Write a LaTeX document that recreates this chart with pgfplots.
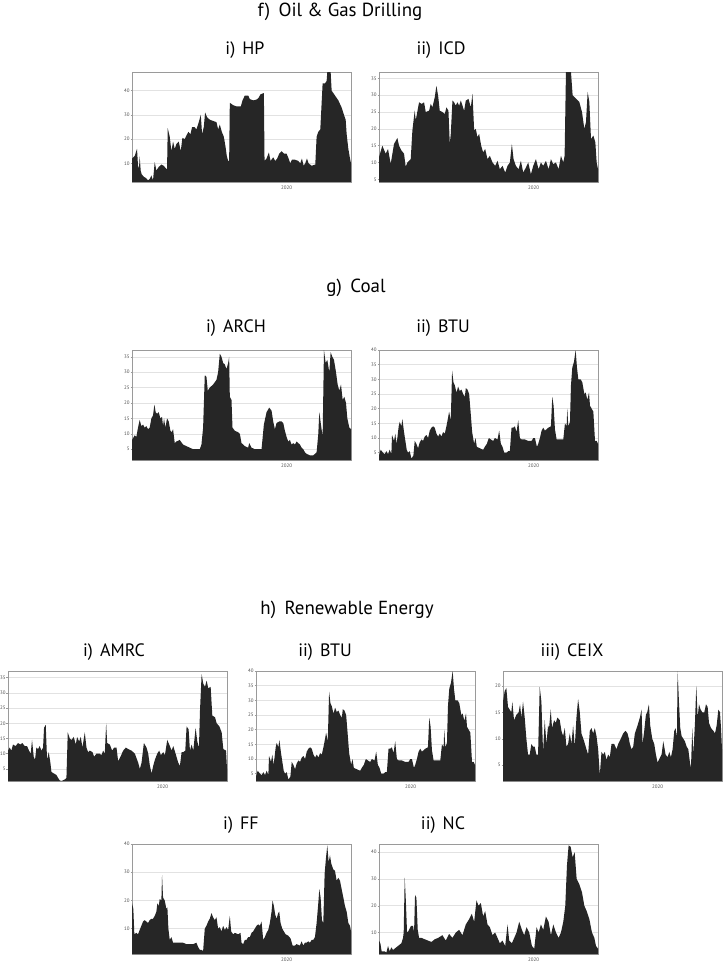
\documentclass[border=0pt]{standalone}
\usepackage{fontspec}
\setmainfont{PT Sans}
\usepackage{pgfplots}
\pgfplotsset{compat=1.18}
\definecolor{areac}{HTML}{262626}
\definecolor{gridc}{HTML}{E2E2E2}
\definecolor{framec}{HTML}{9A9A9A}
\definecolor{tickc}{HTML}{505050}
\pgfplotsset{
  panel/.style={
    scale only axis, width=219bp, height=110bp,
    xmin=0, xmax=656, xtick={463}, xticklabels={2020},
    ymajorgrids, grid style={draw=gridc, line width=0.5bp},
    axis line style={draw=framec, line width=0.7bp},
    major tick length=1.5bp, tick align=outside,
    xtick style={draw=none}, ytick style={draw=framec, line width=0.4bp},
    ytick pos=left, xtick pos=bottom,
    tick label style={font=\fontsize{5}{6}\selectfont, text=tickc},
    yticklabel style={inner sep=0.7bp},
    /pgf/number format/assume math mode=true,
    xticklabel style={yshift=1bp},
    anchor=north west,
  },
  darea/.style={fill=areac, draw=none},
}
% section and panel titles
\newcommand{\stitle}[3]{\node[font=\fontsize{19}{21}\selectfont] at (#1bp,-#2bp) {#3};}
\newcommand{\ptitle}[3]{\node[font=\fontsize{18}{20}\selectfont] at (#1bp,-#2bp) {#3};}

\begin{document}
\begin{tikzpicture}
\path[use as bounding box] (0,0) rectangle (725bp,-963bp);

% ---------- f) Oil & Gas Drilling
\stitle{340}{12}{f)\hspace{0.45em}Oil \& Gas Drilling}
\ptitle{245}{50}{i)\hspace{0.4em}HP}
\ptitle{441}{50}{ii)\hspace{0.4em}ICD}

\begin{axis}[panel, at={(132bp,-72bp)}, ymin=2.3, ymax=47.7, ytick={10,20,30,40}]
\addplot[darea] coordinates {(0,12)(8,13)(15,16)(18,9)(21,8)(23,13)(26,7)(29,5.5)(35,4.5)(41,4)(48,3)(53,3.5)(58,5)(63,3)(68,10.5)(73,7)(80,8.5)(88,9.5)(95,9)(101,8)(105,7.5)(107,24.5)(113,21)(118,15)(123,19)(128,16)(133,18)(140,19)(146,15)(151,20.5)(158,20)(163,21.5)(169,23)(175,22)(180,25)(187,25)(193,24)(200,27)(206,30)(210,22)(215,25)(219,31)(225,29)(233,28)(243,27.5)(253,27)(258,24)(263,26)(269,23)(275,21)(280,17)(284,13)(288,11)(291,11)(293,35)(303,34)(313,33.5)(326,33.5)(331,36)(338,38)(348,38)(353,36.5)(363,36)(373,36.3)(379,37)(385,38.5)(395,39)(397,11)(403,12)(410,14.5)(415,11)(423,12.5)(429,11)(435,12)(441,14)(448,15)(455,14)(463,14)(469,12)(474,10)(479,11.5)(488,11.5)(498,11)(504,10)(509,12)(514,9)(519,10)(524,12)(529,10)(538,9)(549,9.5)(553,21)(558,23)(564,24)(571,43)(578,43)(583,44)(585,47.7)(595,47.7)(598,40)(608,38)(618,36)(628,33)(635,30)(640,28)(643,22)(648,16)(653,12)(656,10)} \closedcycle;
\end{axis}

\begin{axis}[panel, at={(379bp,-72bp)}, ymin=4.2, ymax=36.9, ytick={5,10,...,35}]
\addplot[darea] coordinates {(0,11.6)(10,15)(20,12.6)(27,14)(35,9.6)(45,15.5)(55,17.3)(60,15)(67,13.6)(75,12.6)(80,8.7)(85,10)(95,11)(100,19.5)(107,25.4)(110,22.5)(120,27.9)(128,27.4)(135,27.9)(140,25)(150,25.4)(155,27.4)(160,26.4)(167,29.4)(172,32.8)(177,29.9)(182,25.4)(190,25)(197,24.4)(202,26.4)(208,25.4)(212,15.6)(215,18.5)(220,28.4)(225,27.9)(230,26.9)(235,27.9)(240,26.9)(245,28.4)(250,26.9)(255,25.4)(260,28.4)(268,28.9)(275,26.4)(280,30.4)(285,19.5)(290,20)(295,17.5)(300,18.5)(306,15)(312,13)(318,14)(325,11)(332,12)(340,10)(348,9)(355,10.5)(362,8)(370,9)(378,7)(385,9)(392,10)(398,15.5)(403,11)(410,9)(418,8)(425,10.5)(432,7)(440,8.5)(447,10)(455,6.5)(462,9)(470,11)(478,8)(485,10)(492,9)(500,10.5)(508,8)(515,11)(522,9.5)(530,10)(538,8)(545,12)(552,10)(556,12)(560,36.9)(575,36.9)(580,30)(590,29)(600,28)(608,25)(615,20)(620,22)(625,31)(630,28)(635,17)(642,18)(648,16)(652,10)(656,8)} \closedcycle;
\end{axis}

% ---------- g) Coal
\stitle{356}{288}{g)\hspace{0.45em}Coal}
\ptitle{236}{328}{i)\hspace{0.4em}ARCH}
\ptitle{443}{328}{ii)\hspace{0.4em}BTU}

\begin{axis}[panel, at={(132bp,-350bp)}, ymin=1.5, ymax=37.2, ytick={5,10,...,35}]
\addplot[darea] coordinates {(0,8)(8,9.5)(13,9)(18,12)(23,14.5)(28,12.5)(33,13)(38,12)(43,12.5)(48,11.5)(53,12)(58,15)(63,16)(67,19.5)(71,17)(75,16.5)(80,17)(85,15)(90,15.5)(93,12.5)(96,15)(100,12)(105,15)(110,14)(115,11)(119,10.5)(123,11.5)(128,7)(133,7.5)(143,8)(153,6.5)(163,6)(173,5.5)(183,5)(193,5)(203,5)(208,6.5)(213,12)(218,29)(223,28.5)(227,24)(233,25)(243,26)(253,27.5)(258,30)(263,36)(268,35)(273,33)(278,32.5)(283,31)(288,33)(291,35)(293,22)(298,21)(301,12)(308,11)(318,10.5)(323,10)(328,7)(338,6)(348,5.5)(351,7)(358,5.5)(368,5)(378,5)(388,5)(395,13)(403,17)(411,18.5)(418,17.5)(423,14)(428,11.5)(433,13.5)(441,14)(448,14)(453,13.5)(458,11)(463,9)(468,7.5)(473,8)(478,6.5)(483,7)(488,6.5)(493,7.5)(498,7)(503,6.5)(508,5.5)(513,5)(518,4)(523,3.5)(533,3)(543,3)(553,4)(558,10)(561,17)(566,13)(571,9)(575,37.2)(580,33)(585,34)(591,30)(595,36.5)(600,35)(605,34)(611,30)(616,26)(621,24)(626,26)(631,21)(636,22)(641,20)(645,15)(651,12)(656,11.5)} \closedcycle;
\end{axis}

\begin{axis}[panel, at={(379bp,-350bp)}, ymin=2.5, ymax=40, ytick={5,10,...,40}]
\addplot[darea] coordinates {(0,4)(5,6)(12,5)(17,4.5)(22,5.5)(27,4.5)(32,6)(37,4.5)(39,11)(45,9)(49,11.5)(52,8)(55,10)(59,14)(62,15.5)(67,14)(70,16.5)(75,12)(79,9)(83,6)(87,5)(92,5.5)(97,3)(103,4)(107,9)(112,8)(117,6.5)(122,8.5)(127,9.5)(132,9)(137,10.5)(142,11)(147,10)(152,12.5)(157,13.5)(162,14)(167,13.5)(172,11.5)(177,10.5)(182,11.5)(187,10.5)(192,12)(197,11.5)(202,14)(207,17)(210,19)(215,16)(219,33)(223,29)(227,28)(232,25.5)(237,27.5)(242,26)(247,26.5)(252,25)(257,24)(260,27)(265,26.5)(270,25)(275,18)(279,12)(285,8)(289,10)(293,7)(302,6.5)(312,6)(317,7)(323,8)(329,10)(335,9.5)(342,9)(347,10)(355,9.5)(360,12.5)(365,8)(370,7)(375,5)(382,5)(387,5.5)(392,5.5)(397,13.5)(402,13.5)(407,14)(412,12)(417,16)(422,10)(427,9.5)(437,9.5)(447,9)(457,9)(462,10)(467,10)(473,7)(477,8)(482,10)(487,12.5)(492,13.5)(497,12.5)(507,13.5)(515,14)(519,24)(523,21)(527,13)(532,9.5)(542,9.5)(552,9.5)(557,15)(562,14)(564,20)(567,14)(572,15.5)(575,28)(579,34)(584,36)(589,40)(593,34)(597,30)(604,30)(609,29)(615,25)(619,25.5)(624,23)(629,25.5)(632,21)(637,20)(642,19)(647,9)(652,9)(656,8)} \closedcycle;
\end{axis}

% ---------- h) Renewable Energy
\stitle{347}{610}{h)\hspace{0.45em}Renewable Energy}
\ptitle{114}{652}{i)\hspace{0.4em}AMRC}
\ptitle{325}{652}{ii)\hspace{0.4em}BTU}
\ptitle{572}{652}{iii)\hspace{0.4em}CEIX}

\begin{axis}[panel, at={(8bp,-671bp)}, ymin=1, ymax=37.2, ytick={5,10,...,35}]
\addplot[darea] coordinates {(0,11)(5,12)(10,11)(15,13)(23,12.5)(30,13.5)(37,13)(43,13.5)(50,12.5)(57,12.5)(63,11)(68,10)(72,14.5)(77,9)(81,8)(85,12)(90,11.5)(95,12.5)(100,11)(105,12)(108,18.5)(113,19.5)(117,8)(122,10.5)(127,7)(130,4)(137,3.5)(145,3)(150,2)(155,1.2)(160,1)(170,1.5)(175,2)(179,17)(185,15)(190,14.5)(197,15.5)(203,13)(207,15.5)(213,14)(218,15.5)(223,12)(230,17)(235,12)(240,10.5)(245,11)(253,10.5)(258,9)(265,10)(275,10)(280,9.5)(285,11)(290,10)(294,20)(297,13.5)(305,13)(312,11)(318,12)(325,12)(330,7.5)(337,9)(345,11)(353,12)(360,11.5)(370,11)(380,10)(390,7)(395,5)(400,7)(407,13.5)(415,12)(420,10)(425,6)(430,3.5)(435,6)(440,8)(447,10)(453,11)(458,9.5)(465,10.5)(470,9.5)(477,14.5)(483,13)(490,11)(495,12.5)(502,10)(510,7)(515,6)(520,10.5)(525,10.5)(531,11)(535,19)(541,18)(545,11)(550,13)(555,11)(562,18.5)(567,14)(572,12)(575,24)(580,36.2)(585,33)(590,32)(595,34)(600,31.5)(607,32)(612,22.5)(620,22)(625,20)(633,19)(640,17)(645,11.5)(653,11)(656,5)} \closedcycle;
\end{axis}

\begin{axis}[panel, at={(256bp,-671bp)}, ymin=2.5, ymax=40, ytick={5,10,...,40}]
\addplot[darea] coordinates {(0,4)(5,6)(12,5)(17,4.5)(22,5.5)(27,4.5)(32,6)(37,4.5)(39,11)(45,9)(49,11.5)(52,8)(55,10)(59,14)(62,15.5)(67,14)(70,16.5)(75,12)(79,9)(83,6)(87,5)(92,5.5)(97,3)(103,4)(107,9)(112,8)(117,6.5)(122,8.5)(127,9.5)(132,9)(137,10.5)(142,11)(147,10)(152,12.5)(157,13.5)(162,14)(167,13.5)(172,11.5)(177,10.5)(182,11.5)(187,10.5)(192,12)(197,11.5)(202,14)(207,17)(210,19)(215,16)(219,33)(223,29)(227,28)(232,25.5)(237,27.5)(242,26)(247,26.5)(252,25)(257,24)(260,27)(265,26.5)(270,25)(275,18)(279,12)(285,8)(289,10)(293,7)(302,6.5)(312,6)(317,7)(323,8)(329,10)(335,9.5)(342,9)(347,10)(355,9.5)(360,12.5)(365,8)(370,7)(375,5)(382,5)(387,5.5)(392,5.5)(397,13.5)(402,13.5)(407,14)(412,12)(417,16)(422,10)(427,9.5)(437,9.5)(447,9)(457,9)(462,10)(467,10)(473,7)(477,8)(482,10)(487,12.5)(492,13.5)(497,12.5)(507,13.5)(515,14)(519,24)(523,21)(527,13)(532,9.5)(542,9.5)(552,9.5)(557,15)(562,14)(564,20)(567,14)(572,15.5)(575,28)(579,34)(584,36)(589,40)(593,34)(597,30)(604,30)(609,29)(615,25)(619,25.5)(624,23)(629,25.5)(632,21)(637,20)(642,19)(647,9)(652,9)(656,8)} \closedcycle;
\end{axis}

\begin{axis}[panel, at={(503bp,-671bp)}, ymin=2, ymax=22.8, ytick={5,10,15,20}]
\addplot[darea] coordinates {(0,17)(5,19)(10,19.6)(15,16)(20,15.5)(25,15)(28,17)(33,13.5)(40,14.5)(47,15)(51,16.5)(55,14)(60,17)(65,14)(70,10)(75,7)(80,7)(85,9)(90,8.5)(95,8.5)(100,7)(105,7)(110,19.8)(115,17)(120,7.5)(125,13.5)(130,9)(135,12.5)(138,12)(143,15.5)(147,12)(153,13.5)(158,13)(163,14)(170,13.5)(175,11.5)(180,10.5)(185,12)(190,8.5)(195,9)(200,11)(205,9)(210,12.5)(215,8.5)(220,14)(225,17.5)(230,15)(235,11)(243,9.5)(250,8)(255,7)(260,11.5)(265,12)(270,11)(275,12)(280,10.5)(285,8)(290,3.1)(295,7.5)(300,7)(305,7.5)(310,6)(315,7)(320,6.5)(325,9)(333,9)(340,8)(345,9)(353,10)(360,11)(367,11.5)(373,11)(377,10)(380,9)(385,8)(390,8.5)(395,11)(403,12.5)(410,14)(415,15.5)(418,9)(423,11.5)(428,14.5)(432,15)(437,16.5)(441,12.5)(447,10)(453,9)(458,7)(463,5.5)(467,6)(475,7)(480,9.5)(483,8.5)(487,7)(493,6.5)(498,7.5)(503,6.5)(508,8)(513,11.5)(517,12)(521,10)(523,22.8)(527,17)(531,12)(535,10.5)(540,10)(545,9.5)(550,8.5)(555,8)(560,5.5)(563,4.5)(567,12)(570,7)(575,13)(579,20)(583,14)(587,16.5)(592,15.5)(597,15)(603,15)(608,16.5)(613,16)(617,13)(623,12)(630,11.5)(635,11)(640,12.5)(645,15.5)(650,15)(653,12)(656,8)} \closedcycle;
\end{axis}

\ptitle{241}{825}{i)\hspace{0.4em}FF}
\ptitle{443}{825}{ii)\hspace{0.4em}NC}

\begin{axis}[panel, at={(132bp,-844bp)}, ymin=1, ymax=40, ytick={10,20,30,40}]
\addplot[darea] coordinates {(0,19)(4,17)(7,8)(13,8.5)(18,8)(23,9.5)(28,11)(33,12.5)(38,13)(43,12.5)(48,12)(53,13)(58,13.5)(63,13.5)(68,14.5)(73,16)(76,19)(80,18)(83,20.5)(88,20)(90,29)(93,21)(98,20)(103,17)(106,17.5)(109,10)(113,6)(118,7)(123,5)(133,5)(143,5)(153,5)(163,4.5)(173,4.5)(183,4.5)(193,5)(198,3.5)(203,2.5)(208,2.5)(213,2)(218,10)(223,11)(228,12.5)(233,13.5)(238,15.5)(243,14)(248,13)(253,14)(258,10)(263,10.5)(268,9)(273,11)(278,9.5)(283,10.5)(288,9.5)(293,14.5)(297,9)(303,8)(308,8.5)(318,8)(325,8.5)(328,5)(333,4.5)(338,6)(343,6)(348,7)(353,7)(358,8.5)(363,9)(368,10)(373,11)(378,11.5)(383,11)(388,12.5)(393,6)(398,7)(403,8.5)(408,9.5)(413,12)(418,16)(421,20)(425,18)(429,15)(433,13.5)(438,15.5)(441,16)(445,12)(450,10)(455,9)(460,8)(468,7.5)(475,6.5)(481,4)(488,4)(493,4.5)(503,4)(508,5.5)(513,4)(518,5)(523,5)(528,5.5)(533,5)(538,6)(543,6)(548,7)(553,12)(558,19)(561,24)(565,21)(569,13)(573,12)(577,29.5)(581,35)(585,39.5)(589,33.5)(593,36)(597,33)(603,31)(608,30.5)(613,27)(618,28)(623,27)(628,24)(633,21)(638,18)(643,16)(648,12)(653,11)(656,9)} \closedcycle;
\end{axis}

\begin{axis}[panel, at={(379bp,-844bp)}, ymin=2, ymax=43, ytick={10,20,30,40}]
\addplot[darea] coordinates {(0,7)(4,6)(8,3)(17,3)(22,2.5)(27,5)(32,3)(37,4.5)(42,3.5)(47,4)(52,4.5)(57,5)(62,5.5)(67,6)(72,8)(74,10)(77,30.5)(80,23)(84,10)(88,10.5)(92,11.5)(96,12.5)(102,12.5)(105,10)(108,24)(112,23)(116,11)(120,8)(127,8)(137,7.5)(147,7)(157,6.5)(167,7.5)(177,8)(190,9)(200,7)(210,9.5)(220,8)(230,10)(240,11)(250,9)(260,13)(270,15)(278,17)(285,14)(292,22)(298,20)(305,21)(312,16)(318,18)(325,13)(332,12)(340,9)(348,10)(355,8)(362,6)(370,7)(378,5)(385,13)(390,7)(398,6)(405,8)(412,10)(420,14)(428,11)(435,9)(442,12)(450,10)(458,5)(465,4)(472,12)(478,10)(485,13)(492,11)(500,16)(508,14)(515,9)(522,13)(530,10)(538,8)(545,10)(552,14)(558,20)(563,35)(568,42.5)(574,42)(580,38)(586,40)(592,30)(600,28)(608,25)(615,20)(622,18)(630,15)(638,10)(645,8)(650,5)(656,4)} \closedcycle;
\end{axis}
\end{tikzpicture}
\end{document}
